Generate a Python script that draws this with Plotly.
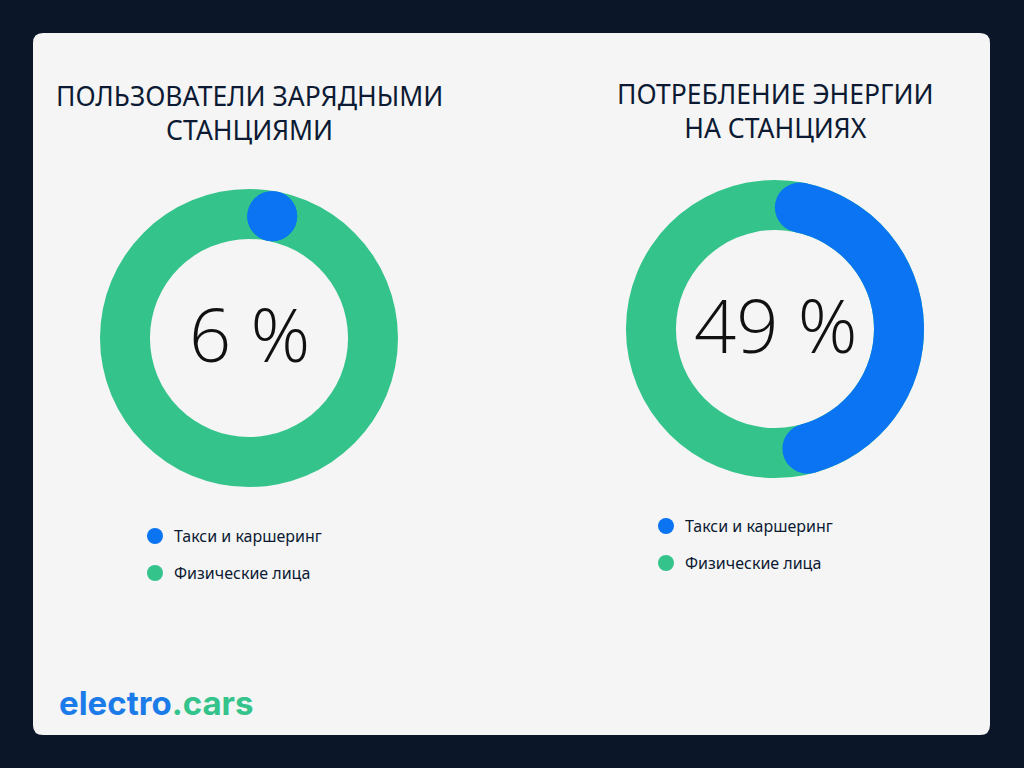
import math
import plotly.graph_objects as go

titles = ["ПОЛЬЗОВАТЕЛИ ЗАРЯДНЫМИ<br>СТАНЦИЯМИ", "ПОТРЕБЛЕНИЕ ЭНЕРГИИ<br>НА СТАНЦИЯХ"]
labels = ["Такси и каршеринг", "Физические лица"]
taxi_share = [6, 49]
private_share = [94, 51]

BLUE = "#0a74f2"
GREEN = "#34c48b"
NAVY = "#0c1a33"
BG = "#0c1629"
W, H = 1024, 768

centers = [(249, 338), (775, 329)]
R_OUT, R_IN = 149, 99
R_MID = (R_OUT + R_IN) / 2
HALF_W = (R_OUT - R_IN) / 2

fig = go.Figure()

def px(x, y):
    return x / W, 1 - y / H

L, T, Rr, B, rc = 33, 33, 990, 735, 10
def P(x, y):
    a, b = px(x, y)
    return f"{a:.5f},{b:.5f}"
path = (f"M {P(L+rc,T)} L {P(Rr-rc,T)} Q {P(Rr,T)} {P(Rr,T+rc)} L {P(Rr,B-rc)} Q {P(Rr,B)} {P(Rr-rc,B)} "
        f"L {P(L+rc,B)} Q {P(L,B)} {P(L,B-rc)} L {P(L,T+rc)} Q {P(L,T)} {P(L+rc,T)} Z")
shapes = [dict(type="path", xref="paper", yref="paper", path=path,
               fillcolor="#f5f5f5", line=dict(width=0), layer="below")]
annotations = []

for i, (cx, cy) in enumerate(centers):
    dom_x = [(cx - R_OUT) / W, (cx + R_OUT) / W]
    dom_y = [1 - (cy + R_OUT) / H, 1 - (cy - R_OUT) / H]
    total = taxi_share[i] + private_share[i]
    fig.add_trace(go.Pie(values=[total], hole=R_IN / R_OUT, sort=False,
                         direction="clockwise", rotation=0, domain=dict(x=dom_x, y=dom_y),
                         marker=dict(colors=[GREEN], line=dict(width=0)),
                         textinfo="none", hoverinfo="skip", showlegend=False))
    span = 360 * taxi_share[i] / total
    inset = math.degrees(HALF_W / R_MID)
    a0, a1 = inset, span - inset
    if a1 <= a0:
        a0 = a1 = span / 2
    else:
        core = (a1 - a0) / 360 * total
        fig.add_trace(go.Pie(values=[core, total - core], hole=R_IN / R_OUT, sort=False,
                             direction="clockwise", rotation=a0, domain=dict(x=dom_x, y=dom_y),
                             marker=dict(colors=[BLUE, "rgba(0,0,0,0)"], line=dict(width=0)),
                             textinfo="none", hoverinfo="skip", showlegend=False))
    for a in (a0, a1):
        t = math.radians(a)
        ex, ey = cx + R_MID * math.sin(t), cy - R_MID * math.cos(t)
        x0, y0 = px(ex - HALF_W, ey + HALF_W)
        x1, y1 = px(ex + HALF_W, ey - HALF_W)
        shapes.append(dict(type="circle", xref="paper", yref="paper", x0=x0, y0=y0, x1=x1, y1=y1,
                           fillcolor=BLUE, line=dict(width=0)))
    annotations.append(dict(x=cx / W, y=1 - (cy - 4) / H, xref="paper", yref="paper", showarrow=False,
                            xanchor="center", yanchor="middle",
                            text=f"{taxi_share[i]} %", font=dict(family="Open Sans", size=74, color="#111", weight=300)))
    ty = 113 if i == 0 else 111
    annotations.append(dict(x=cx / W, y=1 - ty / H, xref="paper", yref="paper",
                            xanchor="center", yanchor="middle",
                            showarrow=False, text=titles[i], align="center",
                            font=dict(family="Noto Sans", size=26.5, color=NAVY)))
    lx = 155 if i == 0 else 666
    ly0 = 536 if i == 0 else 526
    for j, (lab, col) in enumerate(zip(labels, [BLUE, GREEN])):
        ly = ly0 + 37 * j
        x0, y0 = px(lx - 8, ly + 8)
        x1, y1 = px(lx + 8, ly - 8)
        shapes.append(dict(type="circle", xref="paper", yref="paper", x0=x0, y0=y0, x1=x1, y1=y1,
                           fillcolor=col, line=dict(width=0)))
        annotations.append(dict(x=(lx + 17) / W, y=1 - ly / H, xref="paper", yref="paper", showarrow=False,
                                xanchor="left", yanchor="middle", text=lab,
                                font=dict(family="Noto Sans", size=16, color=NAVY)))

annotations.append(dict(x=57 / W, y=1 - 703 / H, xref="paper", yref="paper", showarrow=False,
                        xanchor="left", yanchor="middle",
                        text=f"<span style='color:#1b7be8'>electro</span><span style='color:{GREEN}'>.cars</span>",
                        font=dict(family="Inter", size=33, weight=700)))

fig.update_layout(width=W, height=H, margin=dict(l=0, r=0, t=0, b=0), paper_bgcolor=BG,
                  shapes=shapes, annotations=annotations, showlegend=False)
fig.write_html("out.html", config={"displayModeBar": False},
               post_script=f"document.body.style.margin='0';document.body.style.background='{BG}';")
